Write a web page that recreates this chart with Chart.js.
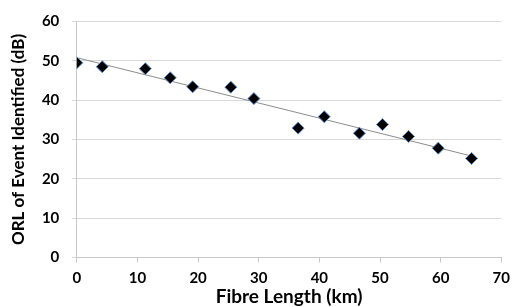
<!DOCTYPE html>
<html>
<head>
<meta charset="utf-8">
<script src="https://cdn.jsdelivr.net/npm/chart.js@4"></script>
<style>
  html, body { margin: 0; padding: 0; background: #fff; }
  #wrap { width: 517px; height: 307px; }
</style>
</head>
<body>
<div id="wrap"><canvas id="orlChart" width="517" height="307"></canvas></div>
<script>
// measured events: fibre length (km) vs ORL (dB)
const fibreLength = [0, 4.2, 11.3, 15.4, 19.1, 25.4, 29.2, 36.5, 40.8, 46.6, 50.4, 54.7, 59.6, 65.1];
const orl = [49.5, 48.5, 48.0, 45.7, 43.4, 43.3, 40.4, 32.9, 35.8, 31.6, 33.8, 30.8, 27.8, 25.2];
// linear trendline end points
const trendX = [0, 65.1];
const trendY = [50.8, 25.8];

const xTicks = [0, 10, 20, 30, 40, 50, 60, 70];
const yTicks = [0, 10, 20, 30, 40, 50, 60];

const font = "Lato, 'Liberation Sans', sans-serif";

new Chart(document.getElementById('orlChart').getContext('2d'), {
  type: 'scatter',
  data: {
    datasets: [{
      label: 'ORL',
      data: fibreLength.map((x, i) => ({ x: x, y: orl[i] })),
      pointStyle: 'rectRot',
      pointRadius: 6,
      backgroundColor: '#000',
      borderColor: '#5b8fd0',
      borderWidth: 1,
      order: 1
    }, {
      label: 'Trend',
      type: 'line',
      data: trendX.map((x, i) => ({ x: x, y: trendY[i] })),
      borderColor: '#8c8c8c',
      borderWidth: 1,
      pointRadius: 0,
      fill: false,
      order: 2
    }]
  },
  options: {
    responsive: false,
    animation: false,
    layout: { padding: { top: 10.5, right: 10, left: 8, bottom: 0 } },
    plugins: {
      legend: { display: false },
      tooltip: { enabled: false }
    },
    scales: {
      x: {
        type: 'linear',
        min: 0,
        max: 70,
        afterBuildTicks: axis => { axis.ticks = xTicks.map(v => ({ value: v })); },
        grid: { drawOnChartArea: false, color: '#c8c8c8', tickLength: 5 },
        border: { color: '#c8c8c8' },
        ticks: { color: '#000', padding: 7, font: { family: font, size: 15, weight: 'bold' } },
        title: { display: true, text: 'Fibre Length (km)', color: '#000', padding: { top: -7.5, bottom: 0 },
          font: { family: font, size: 19, weight: 'bold', lineHeight: 1.05 } }
      },
      y: {
        min: 0,
        max: 60,
        afterBuildTicks: axis => { axis.ticks = yTicks.map(v => ({ value: v })); },
        grid: { color: '#d9d9d9', tickLength: 5 },
        border: { color: '#c8c8c8' },
        ticks: { color: '#000', padding: 12.5, font: { family: font, size: 15, weight: 'bold' } },
        title: { display: true, text: 'ORL of Event Identified (dB)', color: '#000', padding: { top: 0, bottom: 1 },
          font: { family: font, size: 17, weight: 'bold', lineHeight: 1.2 } }
      }
    }
  }
});
</script>
</body>
</html>
